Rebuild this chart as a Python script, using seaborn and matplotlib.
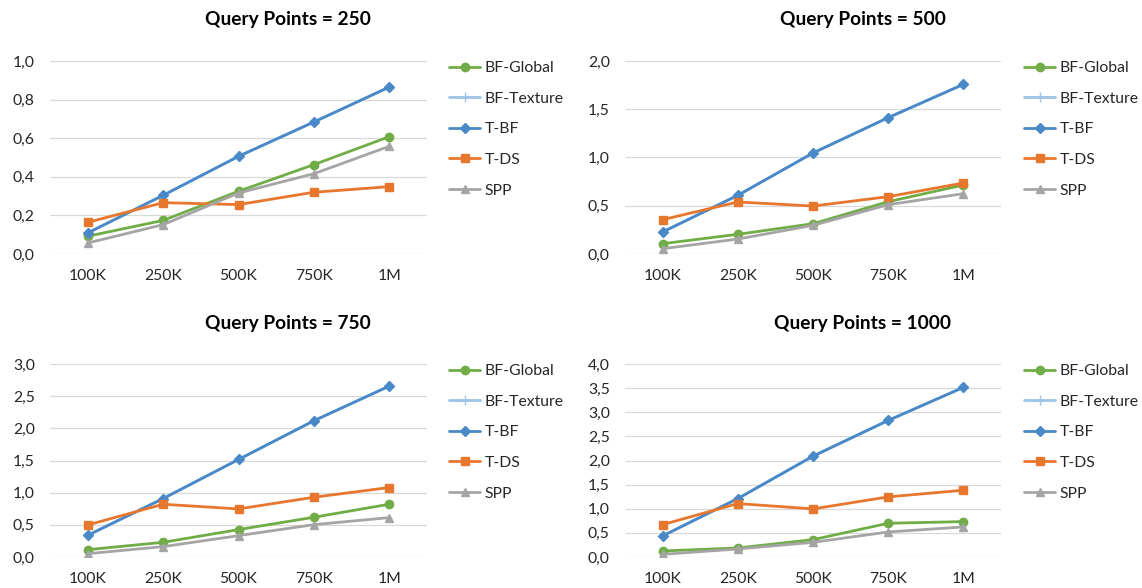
import matplotlib
matplotlib.use("Agg")
import matplotlib.pyplot as plt
import numpy as np
import pandas as pd
import seaborn as sns
from matplotlib.lines import Line2D

# Dataset sizes on the x axis
sizes = ["100K", "250K", "500K", "750K", "1M"]
query_points = [250, 500, 750, 1000]

# Query time per method, keyed by number of query points
bf_global = {
    250: [0.092, 0.174, 0.325, 0.463, 0.608],
    500: [0.107, 0.204, 0.314, 0.542, 0.715],
    750: [0.114, 0.228, 0.426, 0.618, 0.820],
    1000: [0.125, 0.187, 0.360, 0.699, 0.734],
}
t_bf = {
    250: [0.109, 0.304, 0.506, 0.684, 0.865],
    500: [0.228, 0.608, 1.047, 1.413, 1.758],
    750: [0.337, 0.908, 1.516, 2.118, 2.657],
    1000: [0.436, 1.211, 2.090, 2.830, 3.516],
}
# BF-Texture runs coincide with T-BF
bf_texture = {k: list(v) for k, v in t_bf.items()}
t_ds = {
    250: [0.164, 0.266, 0.256, 0.320, 0.349],
    500: [0.356, 0.539, 0.497, 0.594, 0.736],
    750: [0.498, 0.820, 0.747, 0.929, 1.080],
    1000: [0.671, 1.107, 0.997, 1.246, 1.384],
}
spp = {
    250: [0.057, 0.152, 0.316, 0.416, 0.558],
    500: [0.055, 0.155, 0.297, 0.511, 0.625],
    750: [0.052, 0.161, 0.332, 0.503, 0.612],
    1000: [0.055, 0.166, 0.304, 0.519, 0.623],
}

y_max = {250: 1.0, 500: 2.0, 750: 3.0, 1000: 4.0}
y_step = {250: 0.2, 500: 0.5, 750: 0.5, 1000: 0.5}

methods = ["BF-Global", "BF-Texture", "T-BF", "T-DS", "SPP"]
series = {"BF-Global": bf_global, "BF-Texture": bf_texture, "T-BF": t_bf,
          "T-DS": t_ds, "SPP": spp}
colors = {"BF-Global": "#70AD47", "BF-Texture": "#9DC3E6", "T-BF": "#4A89C8",
          "T-DS": "#E8772E", "SPP": "#A5A5A5"}
markers = {"BF-Global": "o", "BF-Texture": "+", "T-BF": "D", "T-DS": "s", "SPP": "^"}
msizes = {"BF-Global": 6.0, "BF-Texture": 7.0, "T-BF": 4.6, "T-DS": 6.2, "SPP": 6.4}
draw_order = ["BF-Texture", "BF-Global", "T-BF", "T-DS", "SPP"]

sns.set_theme(style="white")
plt.rcParams["font.family"] = ["Lato", "DejaVu Sans"]

W, H = 1142, 588
fig = plt.figure(figsize=(W / 100, H / 100), dpi=100)
fig.patch.set_facecolor("white")

# panel boxes in pixels: left, top, right, bottom
boxes = {250: (50, 61, 427, 254), 500: (625, 61, 1001, 254),
         750: (50, 364, 427, 557), 1000: (625, 364, 1001, 557)}
title_pos = {250: (288, 19), 500: (863, 19), 750: (288, 324), 1000: (863, 324)}
legend_offset = 399  # px from panel left to legend handles

for q in query_points:
    l, t, r, b = boxes[q]
    ax = fig.add_axes([l / W, 1 - b / H, (r - l) / W, (b - t) / H])
    rows = []
    for m in methods:
        for i, v in enumerate(series[m][q]):
            rows.append({"pos": i, "size": sizes[i], "method": m, "time": v})
    df = pd.DataFrame(rows)
    for m in draw_order:
        sub = df[df["method"] == m]
        sns.lineplot(data=sub, x="pos", y="time", ax=ax, color=colors[m],
                     marker=markers[m], markersize=msizes[m],
                     markeredgecolor=colors[m], markeredgewidth=1.0,
                     linewidth=2.0, legend=False, sort=False, zorder=3)
    ax.set_xlim(-0.5, 4.5)
    ax.set_ylim(0, y_max[q])
    ticks = np.round(np.arange(0, y_max[q] + 1e-9, y_step[q]), 2)
    ax.set_yticks(ticks)
    ax.set_yticklabels([f"{v:.1f}".replace(".", ",") for v in ticks])
    ax.set_xticks(range(len(sizes)))
    ax.set_xticklabels(sizes)
    ax.set_xlabel("")
    ax.set_ylabel("")
    for s in ax.spines.values():
        s.set_visible(False)
    ax.grid(axis="y", color="#D9D9D9", linewidth=0.9)
    ax.grid(axis="x", visible=False)
    ax.set_axisbelow(True)
    ax.tick_params(axis="both", length=0, labelsize=11.3, labelcolor="#262626")
    ax.tick_params(axis="y", pad=11)
    ax.tick_params(axis="x", pad=11)

    handles = [Line2D([0], [0], color=colors[m], marker=markers[m],
                      markersize=msizes[m], markeredgecolor=colors[m],
                      markeredgewidth=1.0, linewidth=2.0) for m in methods]
    leg = ax.legend(handles, methods, loc="upper left",
                    bbox_to_anchor=(legend_offset / (r - l), 1.0),
                    frameon=False, fontsize=11.3, handlelength=2.0,
                    handletextpad=0.25, labelspacing=1.06, borderaxespad=0,
                    borderpad=0)
    for txt in leg.get_texts():
        txt.set_color("#262626")

    fig.text(title_pos[q][0] / W, 1 - title_pos[q][1] / H, f"Query Points = {q}",
             ha="center", va="center", fontsize=13.8, fontweight="bold", color="#000000")

fig.savefig("out.png", dpi=100, facecolor="white")
